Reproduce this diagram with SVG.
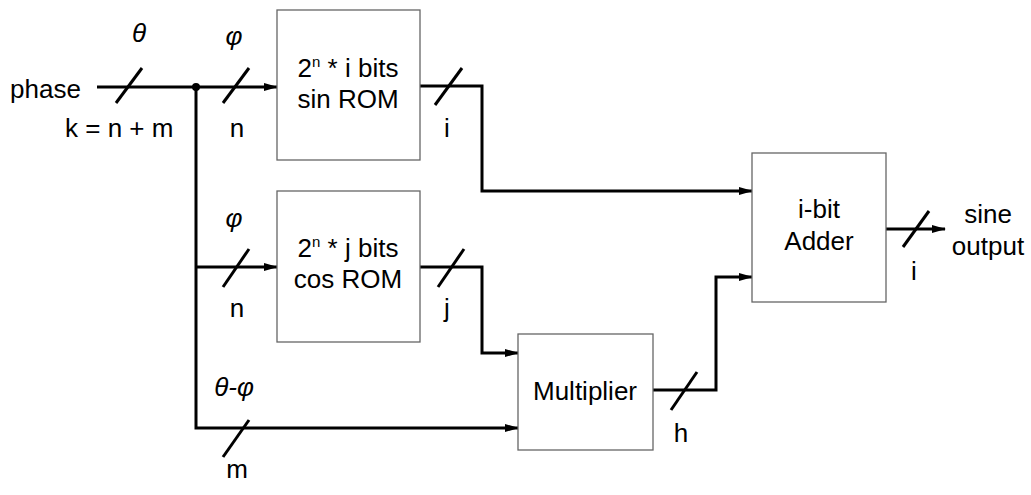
<svg xmlns="http://www.w3.org/2000/svg" width="1031" height="495" viewBox="0 0 1031 495">
<style>
text{font-family:"Liberation Sans",Arial,sans-serif;font-size:26px;fill:#000}
.g{font-style:italic}
.c{text-anchor:middle}
.box{fill:#fff;stroke:#666;stroke-width:1.3}
.w{fill:none;stroke:#000;stroke-width:3}
.s{stroke:#000;stroke-width:3;fill:none}
</style>
<defs>
<marker id="ah" markerWidth="14" markerHeight="10" refX="13" refY="5" orient="auto" markerUnits="userSpaceOnUse">
<path d="M0,1 L14,5 L0,9 Z" fill="#000"/>
</marker>
</defs>
<g id="connectors">
<path class="w" d="M97,87 H277" marker-end="url(#ah)"/>
<path class="w" d="M196,87 V428 H518" marker-end="url(#ah)"/>
<path class="w" d="M196,267 H277" marker-end="url(#ah)"/>
<path class="w" d="M420,86 H482 V191 H752" marker-end="url(#ah)"/>
<path class="w" d="M420,267 H482 V353 H518" marker-end="url(#ah)"/>
<path class="w" d="M653,390 H716 V277 H752" marker-end="url(#ah)"/>
<path class="w" d="M886,229 H945" marker-end="url(#ah)"/>
<circle cx="196" cy="87" r="4" fill="#000"/>
<line class="s" x1="116" y1="103" x2="142" y2="68"/>
<line class="s" x1="223" y1="103" x2="249" y2="68"/>
<line class="s" x1="435" y1="105" x2="462" y2="68"/>
<line class="s" x1="223" y1="287" x2="249" y2="249"/>
<line class="s" x1="438" y1="287" x2="464" y2="249"/>
<line class="s" x1="223" y1="457" x2="249" y2="420"/>
<line class="s" x1="671" y1="410" x2="697" y2="372"/>
<line class="s" x1="903" y1="247" x2="929" y2="211"/>
</g>
<g id="labels">
<text x="10" y="98">phase</text>
<text class="g c" x="139" y="42">θ</text>
<text x="65" y="137">k = n + m</text>
<text class="g c" x="234" y="45">φ</text>
<text class="c" x="237" y="137">n</text>
<text class="c" x="447" y="137">i</text>
<text class="g c" x="234" y="227">φ</text>
<text class="c" x="237" y="317">n</text>
<text class="c" x="447" y="317">j</text>
<text class="g c" x="234" y="396">θ-φ</text>
<text class="c" x="237" y="478">m</text>
<text class="c" x="681" y="442">h</text>
<text class="c" x="914" y="280">i</text>
<text class="c" x="988" y="223">sine</text>
<text class="c" x="988" y="255">output</text>
</g>
<g id="sinROM">
<rect class="box" x="277" y="10" width="143" height="150"/>
<text class="c" x="348" y="77">2<tspan font-size="15" dy="-10">n</tspan><tspan dy="10"> * i bits</tspan></text>
<text class="c" x="348" y="108">sin ROM</text>
</g>
<g id="cosROM">
<rect class="box" x="277" y="191" width="143" height="151"/>
<text class="c" x="348" y="257">2<tspan font-size="15" dy="-10">n</tspan><tspan dy="10"> * j bits</tspan></text>
<text class="c" x="348" y="288">cos ROM</text>
</g>
<g id="multiplier">
<rect class="box" x="518" y="334" width="135" height="116"/>
<text class="c" x="585" y="400">Multiplier</text>
</g>
<g id="adder">
<rect class="box" x="752" y="153" width="134" height="149"/>
<text class="c" x="819" y="218">i-bit</text>
<text class="c" x="819" y="250">Adder</text>
</g>
</svg>
